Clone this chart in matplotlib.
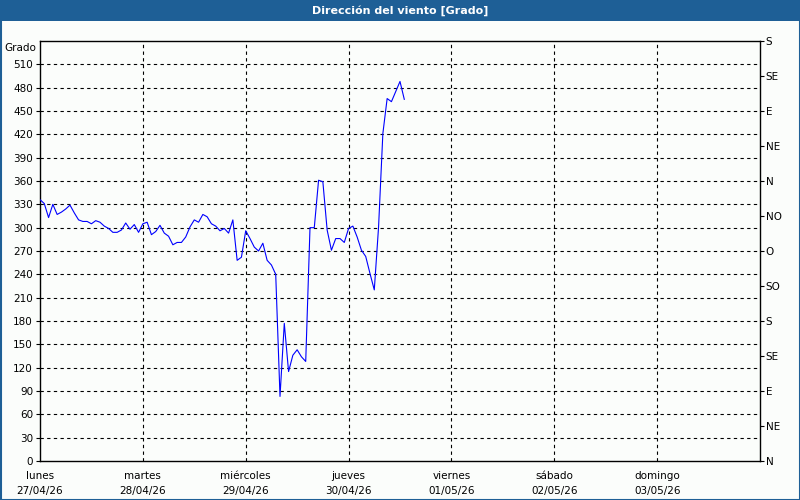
import matplotlib
matplotlib.use("Agg")
import matplotlib.pyplot as plt
from matplotlib.patches import Rectangle

# ---- data ----
title = "Dirección del viento [Grado]"
y_label = "Grado"
hours = list(range(86))
direction = [336, 331, 313, 330, 317, 320, 324, 329, 319, 310,
             308, 308, 305, 309, 307, 302, 299, 294, 294, 297,
             306, 298, 304, 294, 305, 307, 291, 295, 303, 293,
             289, 278, 281, 281, 288, 301, 310, 307, 317, 314,
             305, 302, 296, 299, 293, 310, 258, 262, 296, 286,
             275, 270, 280, 258, 252, 240, 83, 177, 115, 136,
             143, 134, 128, 300, 300, 361, 359, 297, 271, 286,
             286, 281, 299, 302, 288, 271, 263, 241, 220, 301,
             421, 466, 462, 475, 488, 465]
day_names = ["lunes", "martes", "miércoles", "jueves", "viernes", "sábado", "domingo"]
day_dates = ["27/04/26", "28/04/26", "29/04/26", "30/04/26", "01/05/26", "02/05/26", "03/05/26"]
left_ticks = list(range(0, 511, 30))
compass_ticks = list(range(0, 541, 45))
compass_labels = ["N", "NE", "E", "SE", "S", "SO", "O", "NO", "N", "NE", "E", "SE", "S"]

plt.rcParams['font.family'] = ['DejaVu Sans']

fig = plt.figure(figsize=(8, 5), dpi=100)
bg = "#fbfdfb"
blue = "#1e5f96"
fig.patch.set_facecolor(bg)

# title bar and frame
fig.patches.append(Rectangle((0, 1 - 21 / 500), 1, 21 / 500, transform=fig.transFigure,
                             facecolor=blue, edgecolor="none", zorder=0))
fig.patches.append(Rectangle((0.5 / 800, 0.5 / 500), 1 - 1 / 800, 1 - 1 / 500, transform=fig.transFigure,
                             facecolor="none", edgecolor=blue, linewidth=1.5, zorder=5))
fig.text(0.5, 1 - 10.5 / 500, title, color="white", fontsize=8, fontweight="bold",
         ha="center", va="center")

ax = fig.add_axes([40 / 800, 39 / 500, 720 / 800, 420 / 500])
ax.set_facecolor(bg)
x_days = [h / 24 for h in hours]
ax.plot(x_days, direction, color="#0000ff", linewidth=0.8, zorder=3)

ax.set_xlim(0, 7)
ax.set_ylim(0, 540)
ax.set_yticks(left_ticks)
ax.set_yticklabels([str(v) for v in left_ticks], fontsize=7.5)
ax.set_xticks(range(7))
ax.set_xticklabels([f"{n}\n{d}" for n, d in zip(day_names, day_dates)], fontsize=7.5,
                   linespacing=1.6)
ax.tick_params(axis="both", length=3, width=0.8, color="black", pad=2)
ax.tick_params(axis="x", length=0, pad=7)

for v in left_ticks[1:]:
    ax.axhline(v, color="black", linestyle=(0, (3, 3)), linewidth=0.8, zorder=1)
for d in range(1, 7):
    ax.axvline(d, color="black", linestyle=(0, (3, 3)), linewidth=0.8, zorder=1)

for s in ax.spines.values():
    s.set_color("black")
    s.set_linewidth(1.0)

ax.annotate(y_label, xy=(0, 1), xycoords="axes fraction", xytext=(-3, -5),
            textcoords="offset points", ha="right", va="center", fontsize=7.5)

ax2 = ax.twinx()
ax2.set_ylim(0, 540)
ax2.set_yticks(compass_ticks)
ax2.set_yticklabels(compass_labels, fontsize=7.5)
ax2.tick_params(axis="y", length=3, width=0.8, pad=1)
for s in ax2.spines.values():
    s.set_visible(False)

fig.savefig("out.png", dpi=100, facecolor=fig.get_facecolor())
